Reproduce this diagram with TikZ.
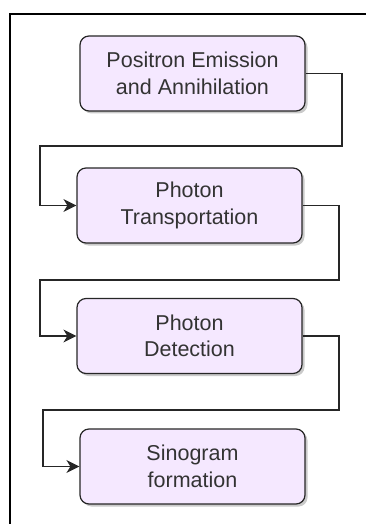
\documentclass[tikz,border=0pt]{standalone}
\usepackage{fontspec}
\setmainfont{Liberation Sans}
\usetikzlibrary{shadows,arrows.meta}
\definecolor{boxfill}{HTML}{F5E8FF}
\definecolor{lineg}{HTML}{262626}
\tikzset{
  stepbox/.style={draw=lineg, line width=1.2pt, fill=boxfill, rounded corners=9pt,
    minimum width=225pt, minimum height=75pt, inner sep=0pt, align=center,
    font=\fontsize{21.5}{26.5}\selectfont, text=black!80,
    drop shadow={shadow xshift=2.5pt, shadow yshift=-2.5pt, opacity=0.35, fill=black!60}},
  link/.style={draw=lineg, line width=1.3pt, -{Stealth[length=13pt,width=13pt,inset=4pt]}},
  frame/.style={draw=black, line width=2.4pt}
}
\begin{document}
\begin{tikzpicture}[x=1pt,y=-1pt]
\useasboundingbox (0,0) rectangle (365,524);
\draw[frame] (10,526) -- (10,14) -- (367,14);
\node[stepbox] (a) at (192.5,73.5) {Positron Emission\\and Annihilation};
\node[stepbox] (b) at (189.5,205.5) {Photon\\Transportation};
\node[stepbox] (c) at (189.5,336) {Photon\\Detection};
\node[stepbox] (d) at (192.5,466.5) {Sinogram\\formation};
\coordinate (a1) at (342,73.5);
\coordinate (a2) at (342,146);
\coordinate (a3) at (40,146);
\draw[link] (a.east) -- (a1) -- (a2) -- (a3) |- (b.west);
\coordinate (b1) at (339,205.5);
\coordinate (b2) at (339,280);
\coordinate (b3) at (40,280);
\draw[link] (b.east) -- (b1) -- (b2) -- (b3) |- (c.west);
\coordinate (c1) at (339,336);
\coordinate (c2) at (339,410);
\coordinate (c3) at (43,410);
\draw[link] (c.east) -- (c1) -- (c2) -- (c3) |- (d.west);
\end{tikzpicture}
\end{document}
